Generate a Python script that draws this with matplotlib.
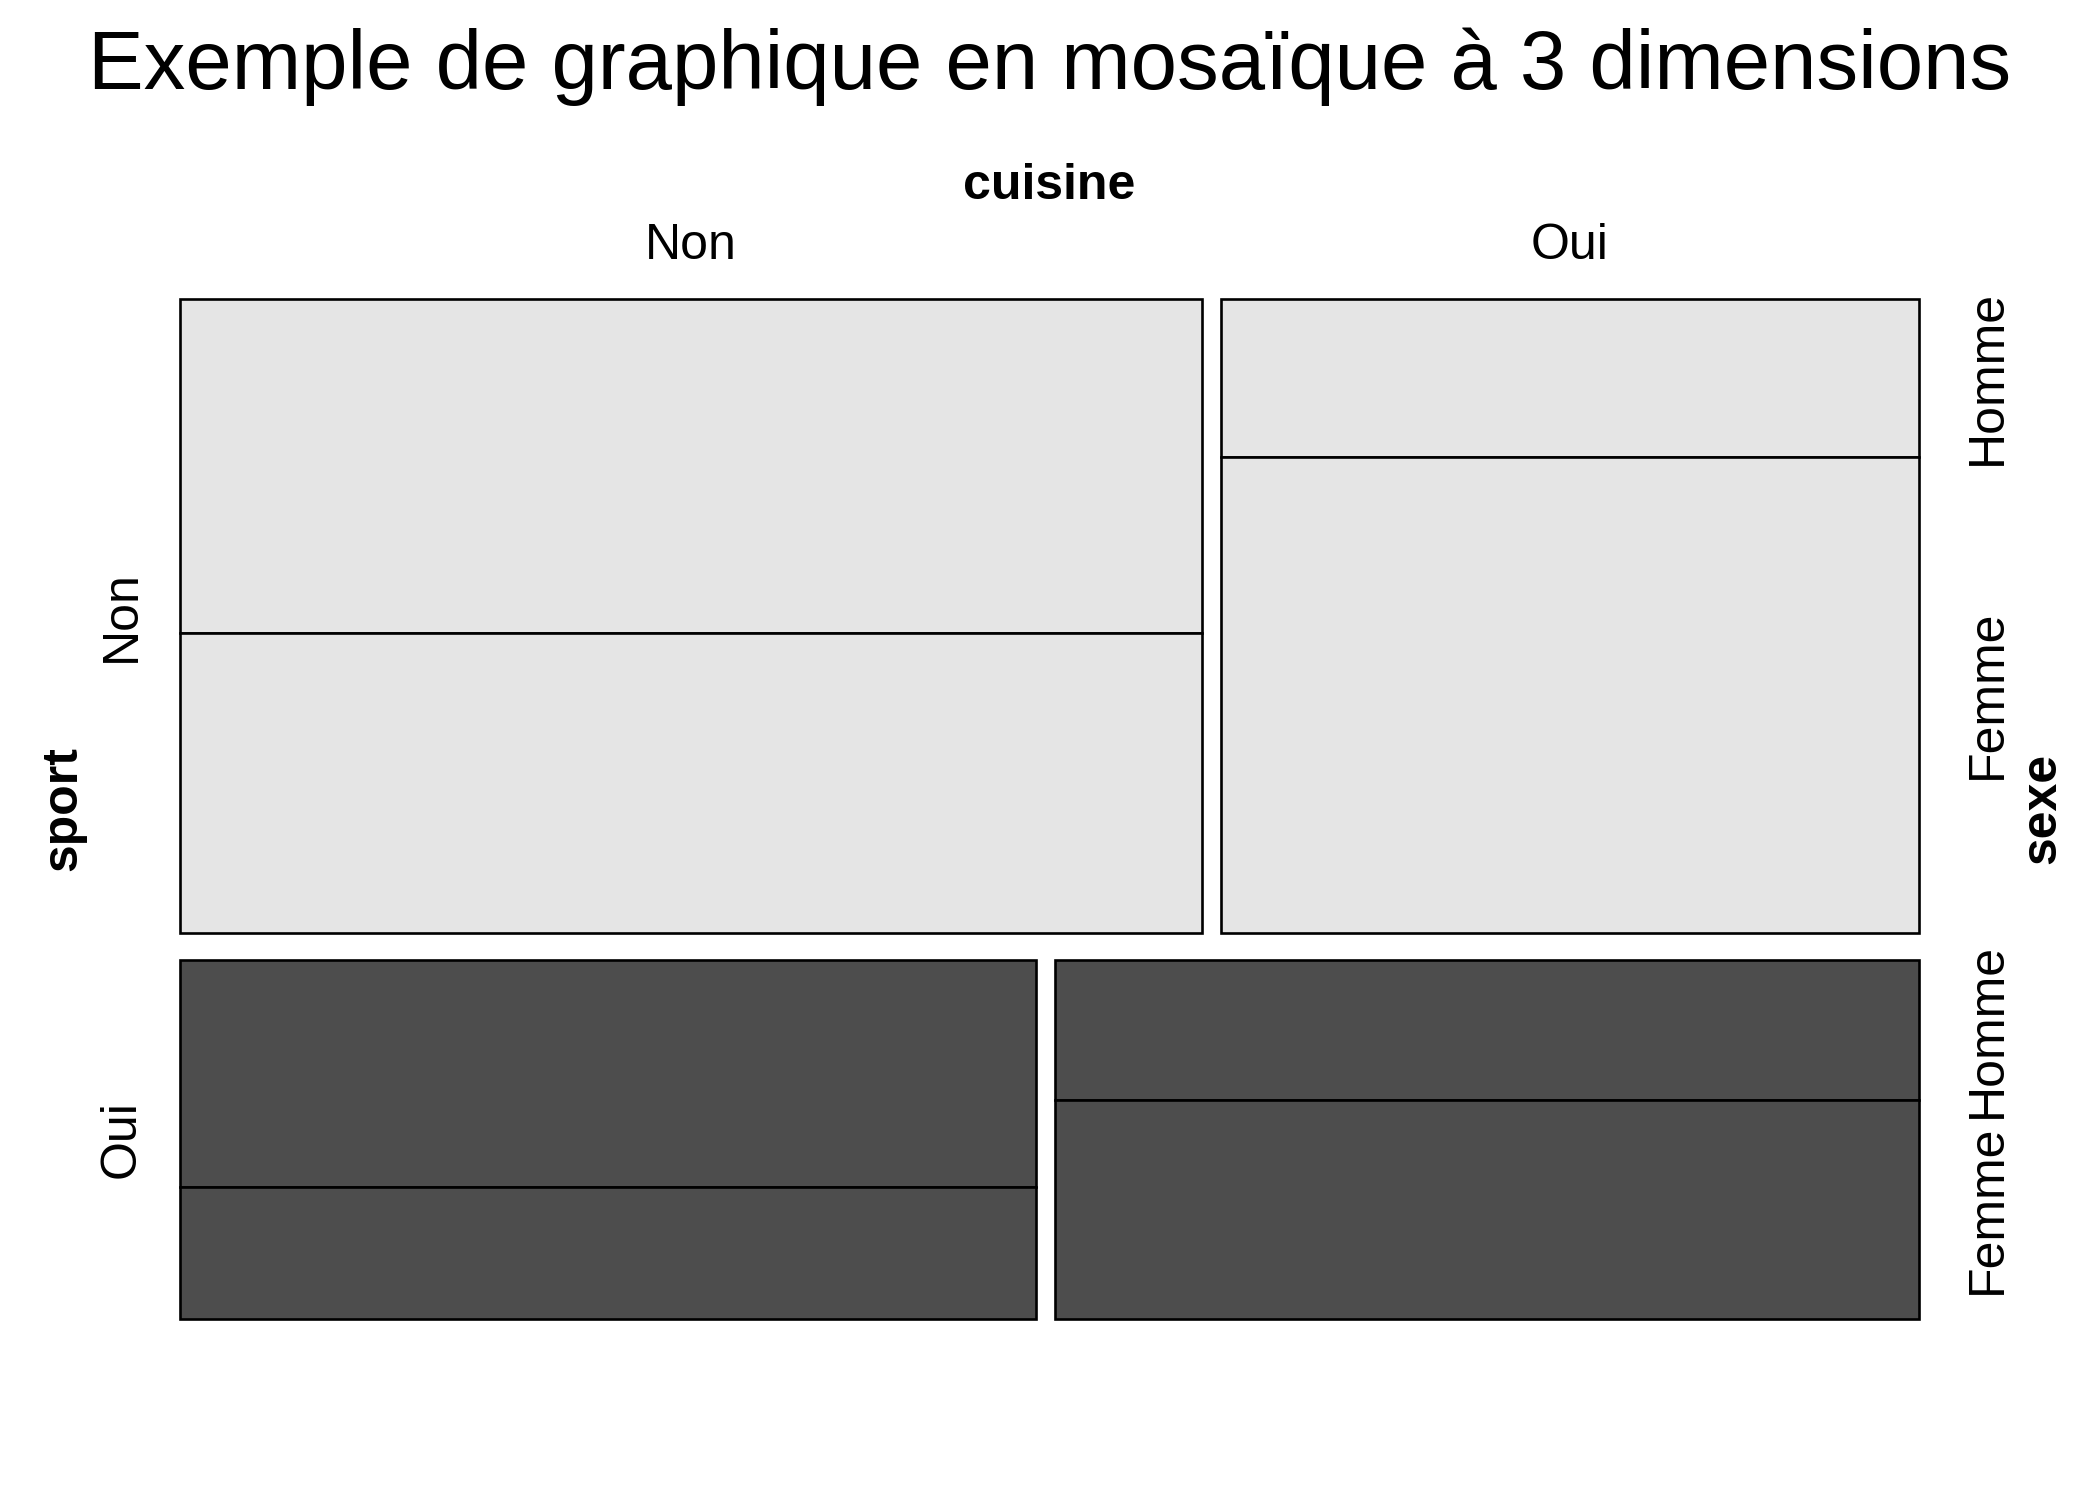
import matplotlib
matplotlib.use("Agg")
import matplotlib.pyplot as plt
import matplotlib.transforms as mtransforms
from matplotlib.patches import Rectangle
import numpy as np

plt.rcParams['font.family'] = ['Liberation Sans', 'DejaVu Sans']

# effectifs : sport x cuisine x sexe
sport_levels = ["Non", "Oui"]
cuisine_levels = ["Non", "Oui"]
sexe_levels = ["Homme", "Femme"]
# counts[sport][cuisine] = [Homme, Femme]
counts_sport_non = [[400, 359], [129, 389]]
counts_sport_oui = [[228, 132], [142, 221]]
counts = np.array([counts_sport_non, counts_sport_oui])

row_colors = ["#E5E5E5", "#4D4D4D"]
title = "Exemple de graphique en mosaïque à 3 dimensions"

fig = plt.figure(figsize=(21, 15), dpi=100)
ax = fig.add_axes([179.5 / 2100, 181 / 1500, 1739.5 / 2100, 1020.5 / 1500])
ax.set_xlim(0, 1)
ax.set_ylim(1, 0)
ax.axis("off")

gx = 14 / 1299
gy = 20 / 762

sport_tot = counts.sum(axis=(1, 2))
y0 = 0
row_centers = []
last_col_centers = []
col_centers_top = []
for i, s in enumerate(sport_levels):
    h = sport_tot[i] / sport_tot.sum() * (1 - gy)
    row_centers.append(y0 + h / 2)
    cuis_tot = counts[i].sum(axis=1)
    x0 = 0
    for j, c in enumerate(cuisine_levels):
        w = cuis_tot[j] / cuis_tot.sum() * (1 - gx)
        if i == 0:
            col_centers_top.append(x0 + w / 2)
        yy = y0
        for k, sx in enumerate(sexe_levels):
            hh = counts[i, j, k] / cuis_tot[j] * h
            ax.add_patch(Rectangle((x0, yy), w, hh, facecolor=row_colors[i],
                                   edgecolor="black", linewidth=1.9, clip_on=False))
            if j == len(cuisine_levels) - 1:
                last_col_centers.append(yy + hh / 2)
            yy += hh
        x0 += w + gx
    y0 += h + gy

fs = 36
fig.text(0.5, 1 - 67 / 1500, title, ha="center", va="center", fontsize=60)

ax.text(0.5, 1.110, "cuisine", transform=ax.transAxes, ha="center", va="center",
        fontsize=fs, fontweight="bold")
tx = mtransforms.blended_transform_factory(ax.transData, ax.transAxes)
for xc, lab in zip(col_centers_top, cuisine_levels):
    ax.text(xc, 1.051, lab, transform=tx, ha="center", va="center", fontsize=fs)

ax.text(-0.067, 0.5, "sport", transform=ax.transAxes, ha="center", va="center",
        rotation=90, fontsize=fs, fontweight="bold")
ty = mtransforms.blended_transform_factory(ax.transAxes, ax.transData)
for yc, lab in zip(row_centers, sport_levels):
    ax.text(-0.033, yc, lab, transform=ty, ha="center", va="center",
            rotation=90, fontsize=fs)

for n, yc in enumerate(last_col_centers):
    ax.text(1.0397, yc, sexe_levels[n % 2], transform=ty, ha="center", va="center",
            rotation=90, fontsize=fs)
ax.text(1.0707, 0.5, "sexe", transform=ax.transAxes, ha="center", va="center",
        rotation=90, fontsize=fs, fontweight="bold")

fig.savefig("out.png", dpi=100, facecolor="white")
